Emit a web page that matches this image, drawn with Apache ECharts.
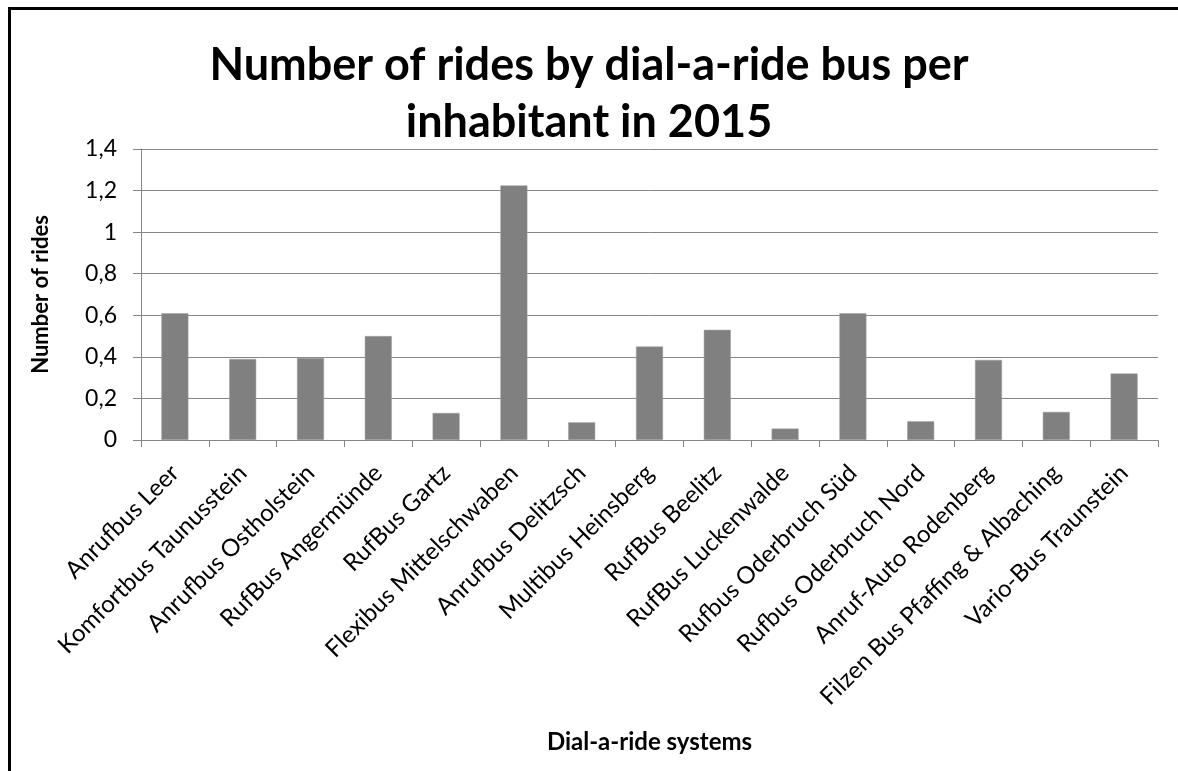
<!DOCTYPE html>
<html>
<head>
<meta charset="utf-8">
<script src="https://cdn.jsdelivr.net/npm/echarts@6/dist/echarts.min.js"></script>
<style>
html,body{margin:0;padding:0;background:#fff;overflow:hidden;}
#frame{position:absolute;left:8px;top:7px;width:1300px;height:900px;border-left:3px solid #000;border-top:3px solid #000;box-sizing:border-box;}
#chart{position:absolute;left:0;top:0;width:1178px;height:771px;}
</style>
</head>
<body>
<div id="frame"></div>
<div id="chart"></div>
<script>
const categories = [
  "Anrufbus Leer",
  "Komfortbus Taunusstein",
  "Anrufbus Ostholstein",
  "RufBus Angermünde",
  "RufBus Gartz",
  "Flexibus Mittelschwaben",
  "Anrufbus Delitzsch",
  "Multibus Heinsberg",
  "RufBus Beelitz",
  "RufBus Luckenwalde",
  "Rufbus Oderbruch Süd",
  "Rufbus Oderbruch Nord",
  "Anruf-Auto Rodenberg",
  "Filzen Bus Pfaffing & Albaching",
  "Vario-Bus Traunstein"
];
const ridesPerInhabitant = [0.61, 0.39, 0.395, 0.50, 0.13, 1.225, 0.085, 0.45, 0.53, 0.055, 0.61, 0.09, 0.385, 0.135, 0.32];
const titleText = "Number of rides by dial-a-ride bus per\ninhabitant in 2015";
const yAxisTitle = "Number of rides";
const xAxisTitle = "Dial-a-ride systems";

const chart = echarts.init(document.getElementById('chart'), null, {renderer: 'canvas'});
const fam = 'Lato, "Open Sans", sans-serif';
chart.setOption({
  animation: false,
  backgroundColor: 'transparent',
  title: {
    text: titleText,
    left: 'center',
    top: 32,
    textStyle: {fontFamily: fam, fontWeight: 'bold', fontSize: 45, lineHeight: 57, color: '#000'}
  },
  grid: {left: 141, right: 20, top: 149, bottom: 331, containLabel: false},
  xAxis: {
    type: 'category',
    data: categories,
    name: xAxisTitle,
    nameLocation: 'middle',
    nameGap: 290,
    nameTextStyle: {fontFamily: fam, fontWeight: 'bold', fontSize: 24, color: '#000'},
    axisLine: {lineStyle: {color: '#868686', width: 1}},
    axisTick: {show: true, length: 7, lineStyle: {color: '#868686'}},
    axisLabel: {rotate: 45, fontFamily: fam, fontSize: 24, color: '#000', margin: 29, interval: 0}
  },
  yAxis: {
    type: 'value',
    min: 0, max: 1.4, interval: 0.2,
    name: yAxisTitle,
    nameLocation: 'middle',
    nameGap: 89,
    nameRotate: 90,
    nameTextStyle: {fontFamily: fam, fontWeight: 'bold', fontSize: 22, color: '#000'},
    axisLine: {show: true, lineStyle: {color: '#868686', width: 1}},
    axisTick: {show: true, length: 8, lineStyle: {color: '#868686'}},
    axisLabel: {
      fontFamily: fam, fontSize: 23, color: '#000', margin: 24,
      formatter: v => String(Math.round(v * 10) / 10).replace('.', ',')
    },
    splitLine: {show: true, lineStyle: {color: '#868686', width: 1}}
  },
  series: [{
    type: 'bar',
    data: ridesPerInhabitant,
    barWidth: 27,
    itemStyle: {color: '#808080', borderColor: '#a0a0a0', borderWidth: 0.5}
  }]
});
</script>
</body>
</html>
